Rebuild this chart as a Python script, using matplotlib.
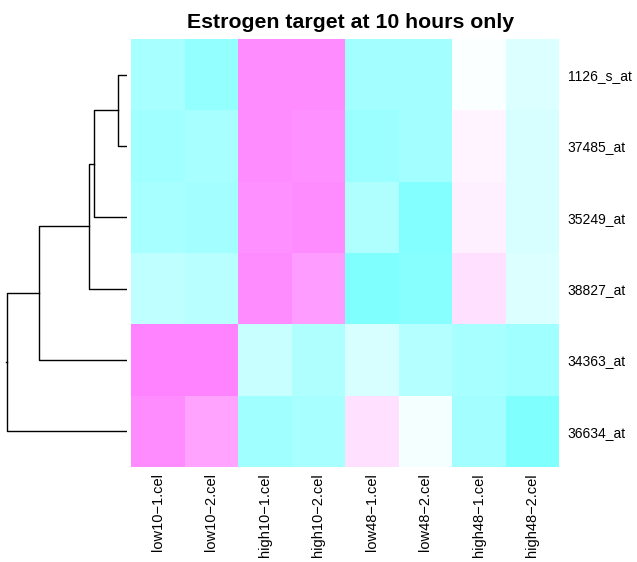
import numpy as np
import matplotlib
matplotlib.use("Agg")
import matplotlib.pyplot as plt
from matplotlib.colors import LinearSegmentedColormap

# row / column labels (top to bottom, left to right as drawn)
rows = ['1126_s_at', '37485_at', '35249_at', '38827_at', '34363_at', '36634_at']
cols = ['low10\u22121.cel', 'low10\u22122.cel', 'high10\u22121.cel', 'high10\u22122.cel',
        'low48\u22121.cel', 'low48\u22122.cel', 'high48\u22121.cel', 'high48\u22122.cel']

# row-scaled values (-1 = cyan, 0 = white, 1 = magenta)
vals = np.array([
    [-0.69, -0.84, 0.90, 0.90, -0.72, -0.72, -0.04, -0.28],
    [-0.75, -0.69, 0.90, 0.87, -0.78, -0.72, 0.09, -0.31],
    [-0.69, -0.72, 0.87, 0.90, -0.62, -0.97, 0.12, -0.31],
    [-0.50, -0.56, 0.90, 0.78, -1.00, -0.94, 0.24, -0.28],
    [0.97, 0.97, -0.43, -0.62, -0.31, -0.59, -0.69, -0.75],
    [0.90, 0.72, -0.75, -0.69, 0.24, -0.09, -0.72, -1.00],
])

# row dendrogram merge heights: (A,B), (+C), (+D), (+E), (+F)
heights = [9.3, 32.7, 37.7, 87.7, 120.3]

cmap = LinearSegmentedColormap.from_list('cm', ['#80FFFF', '#FFFFFF', '#FF80FF'])

W, H = 637, 562
fig = plt.figure(figsize=(W / 100, H / 100), dpi=100)

hl, hr, ht, hb = 131, 559, 39, 467
ax = fig.add_axes([hl / W, 1 - hb / H, (hr - hl) / W, (hb - ht) / H])
ax.pcolormesh(np.arange(len(cols) + 1), np.arange(len(rows) + 1), vals,
              cmap=cmap, vmin=-1, vmax=1)
ax.set_xlim(0, len(cols))
ax.set_ylim(len(rows), 0)
for s in ax.spines.values():
    s.set_visible(False)
ax.set_xticks(np.arange(len(cols)) + 0.5)
ax.set_xticklabels(cols, rotation=90, fontsize=10.5, family='Liberation Sans')
ax.set_yticks(np.arange(len(rows)) + 0.5)
ax.set_yticklabels(rows, fontsize=10, family='Liberation Sans')
ax.yaxis.tick_right()
ax.tick_params(length=0)
ax.tick_params(axis='y', pad=6.3)
ax.tick_params(axis='x', pad=4.3)

# dendrogram
dax = fig.add_axes([0, 1 - hb / H, 127 / W, (hb - ht) / H])
dax.set_xlim(127, 0)
dax.set_ylim(len(rows), 0)
dax.axis('off')
cur_y, cur_h = 0.5, 0.0
for i, h in enumerate(heights):
    leaf_y = i + 1.5
    dax.plot([cur_h, h, h, 0], [cur_y, cur_y, leaf_y, leaf_y], color='black', lw=1)
    cur_y = (cur_y + leaf_y) / 2
    cur_h = h
dax.plot([cur_h, cur_h + 1], [cur_y, cur_y], color='black', lw=1)

fig.text(350.5 / W, 1 - 28 / H, 'Estrogen target at 10 hours only',
         ha='center', va='baseline', fontsize=15.3, fontweight='bold', family='Liberation Sans')

fig.savefig('out.png', dpi=100)
